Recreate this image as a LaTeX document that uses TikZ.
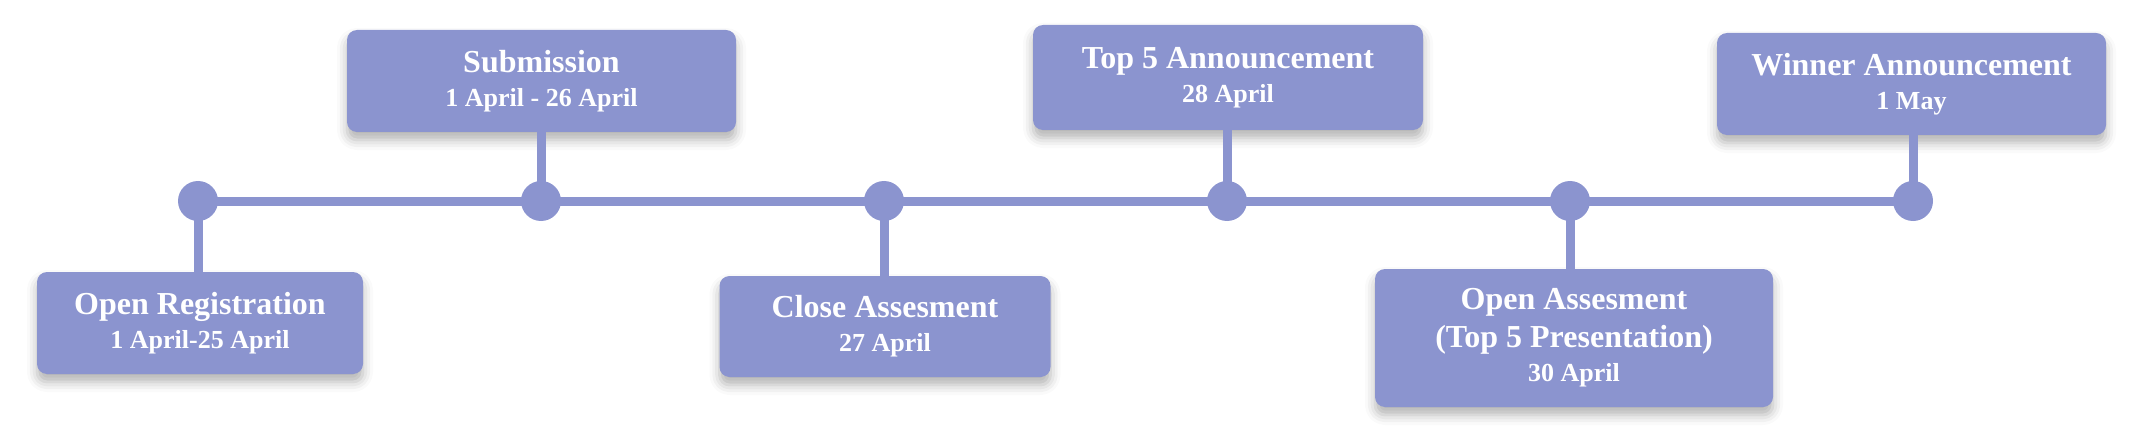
\documentclass[tikz,border=0pt]{standalone}
\usepackage{fontspec}
\setmainfont{Liberation Serif}
\usetikzlibrary{shadows.blur}
\definecolor{lavender}{RGB}{139,148,207}
\newcommand{\datesize}{\fontsize{13}{17}\selectfont}
\tikzstyle{timeline}=[draw=lavender, line width=4.5pt]
\tikzstyle{dot}=[circle, fill=lavender, inner sep=0, minimum size=20pt]
\tikzstyle{event}=[rectangle, rounded corners=5pt, fill=lavender, text=white, align=center,
                   inner sep=0, font=\fontsize{16}{17}\selectfont\bfseries,
                   % Soft shadow under each box.
                   blur shadow={shadow xshift=0pt, shadow yshift=-4pt, shadow blur radius=5pt, shadow opacity=30}]

\begin{document}
\begin{tikzpicture}[x=0.5pt, y=-0.5pt]
        \useasboundingbox (0, 0) rectangle (2132, 444);
        % Dots on the time line.
        \foreach \i/\x in {1/198, 2/541, 3/884, 4/1227, 5/1570, 6/1913}
            \coordinate (c\i) at (\x, 201);
        \draw[timeline] (c1) -- (c6);
        % Boxes.
        \node[event, minimum width=163pt, minimum height=51pt] (b1) at (200, 323) {Open Registration\\{\datesize 1 April-25 April}};
        \node[event, minimum width=194.5pt, minimum height=51pt] (b2) at (541.5, 81) {Submission\\{\datesize 1 April - 26 April}};
        \node[event, minimum width=165.5pt, minimum height=50.5pt] (b3) at (885, 326.5) {Close Assesment\\{\datesize 27 April}};
        \node[event, minimum width=195pt, minimum height=52.5pt] (b4) at (1228, 77.5) {Top 5 Announcement\\{\datesize 28 April}};
        \node[event, minimum width=199pt, minimum height=69pt] (b5) at (1574, 338) {Open Assesment\\[2pt](Top 5 Presentation)\\{\datesize 30 April}};
        \node[event, minimum width=194.5pt, minimum height=51pt] (b6) at (1911.5, 84) {Winner Announcement\\{\datesize 1 May}};
        % Stems from dot to box (boxes below, then above).
        \foreach \i/\side in {1/north, 2/south, 3/north, 4/south, 5/north, 6/south}
            \draw[timeline] (c\i) -- (c\i |- b\i.\side);
        \foreach \i in {1,...,6}
            \node[dot] (d\i) at (c\i) {};
\end{tikzpicture}
\end{document}
